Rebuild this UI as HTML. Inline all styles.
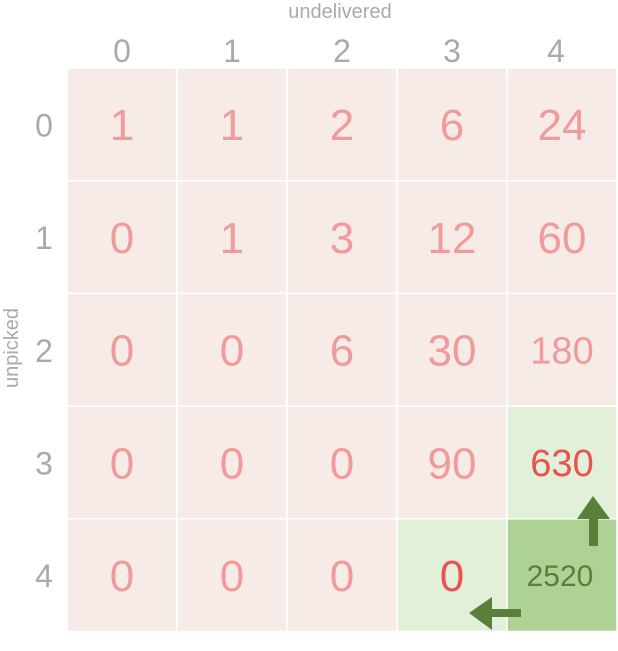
<!DOCTYPE html>
<html><head><meta charset="utf-8"><style>
body{margin:0;background:#fff;width:618px;height:646px;overflow:hidden}
text{font-family:"Liberation Sans",sans-serif}
</style></head><body>
<svg width="618" height="646">
<g id="cells"></g>
<text x="340" y="18" font-size="20" fill="#aaa" text-anchor="middle">undelivered</text>
<text transform="translate(18,348) rotate(-90)" font-size="20" fill="#aaa" text-anchor="middle">unpicked</text>
<g id="arrows">
<polygon points="577,519 593,496 610,519 598,519 598,546 589,546 589,519" fill="#5a7f3a"/>
<polygon points="469,613 492,597 492,609 521,609 521,617 492,617 492,630" fill="#5a7f3a"/>
</g>
</svg>
<script>
const xLabels=["0","1","2","3","4"];
const yLabels=["0","1","2","3","4"];
const values=[[1,1,2,6,24],[0,1,3,12,60],[0,0,6,30,180],[0,0,0,90,630],[0,0,0,0,2520]];
const x0=67,y0=68,cw=110,ch=112.7;
const g=document.getElementById('cells');
const NS="http://www.w3.org/2000/svg";
const svg=document.querySelector('svg');
function xs(i){return x0+i*cw}
function ys(j){return y0+j*ch}
xLabels.forEach((l,i)=>{const t=document.createElementNS(NS,'text');


t.setAttribute('x',xs(i)+cw/2+(i==4?-6:0));t.setAttribute('y',62);t.setAttribute('font-size',32);t.setAttribute('fill','#aaa');t.setAttribute('text-anchor','middle');t.textContent=l;svg.appendChild(t);});
yLabels.forEach((l,j)=>{const t=document.createElementNS(NS,'text');


t.setAttribute('x',44);t.setAttribute('y',ys(j)+ch/2+12);t.setAttribute('font-size',32);t.setAttribute('fill','#aaa');t.setAttribute('text-anchor','middle');t.textContent=l;svg.appendChild(t);});
values.forEach((row,j)=>row.forEach((v,i)=>{
 let bg='#f7ebe8',fc='#f09a9a';
 if(i==4&&j==4){bg='#aed195';fc='#5a7f3a';}
 else if((i==4&&j==3)||(i==3&&j==4)){bg='#e2efd9';fc='#e8524f';}
 const r=document.createElementNS(NS,'rect');
 
 
 r.setAttribute('x',xs(i));r.setAttribute('y',ys(j));r.setAttribute('width',cw);r.setAttribute('height',ch);
 r.setAttribute('fill',bg);r.setAttribute('stroke','#fff');r.setAttribute('stroke-width',1.5);g.appendChild(r);
 const s=String(v);const fs=s.length>=4?30:s.length==3?38:44;
 const t=document.createElementNS(NS,'text');
 
 
 t.setAttribute('x',xs(i)+cw/2-(i==4&&j==4?2:0));t.setAttribute('y',ys(j)+ch/2+fs*0.36);t.setAttribute('font-size',fs);t.setAttribute('fill',fc);t.setAttribute('text-anchor','middle');t.textContent=s;g.appendChild(t);
}));
</script>
</body></html>
